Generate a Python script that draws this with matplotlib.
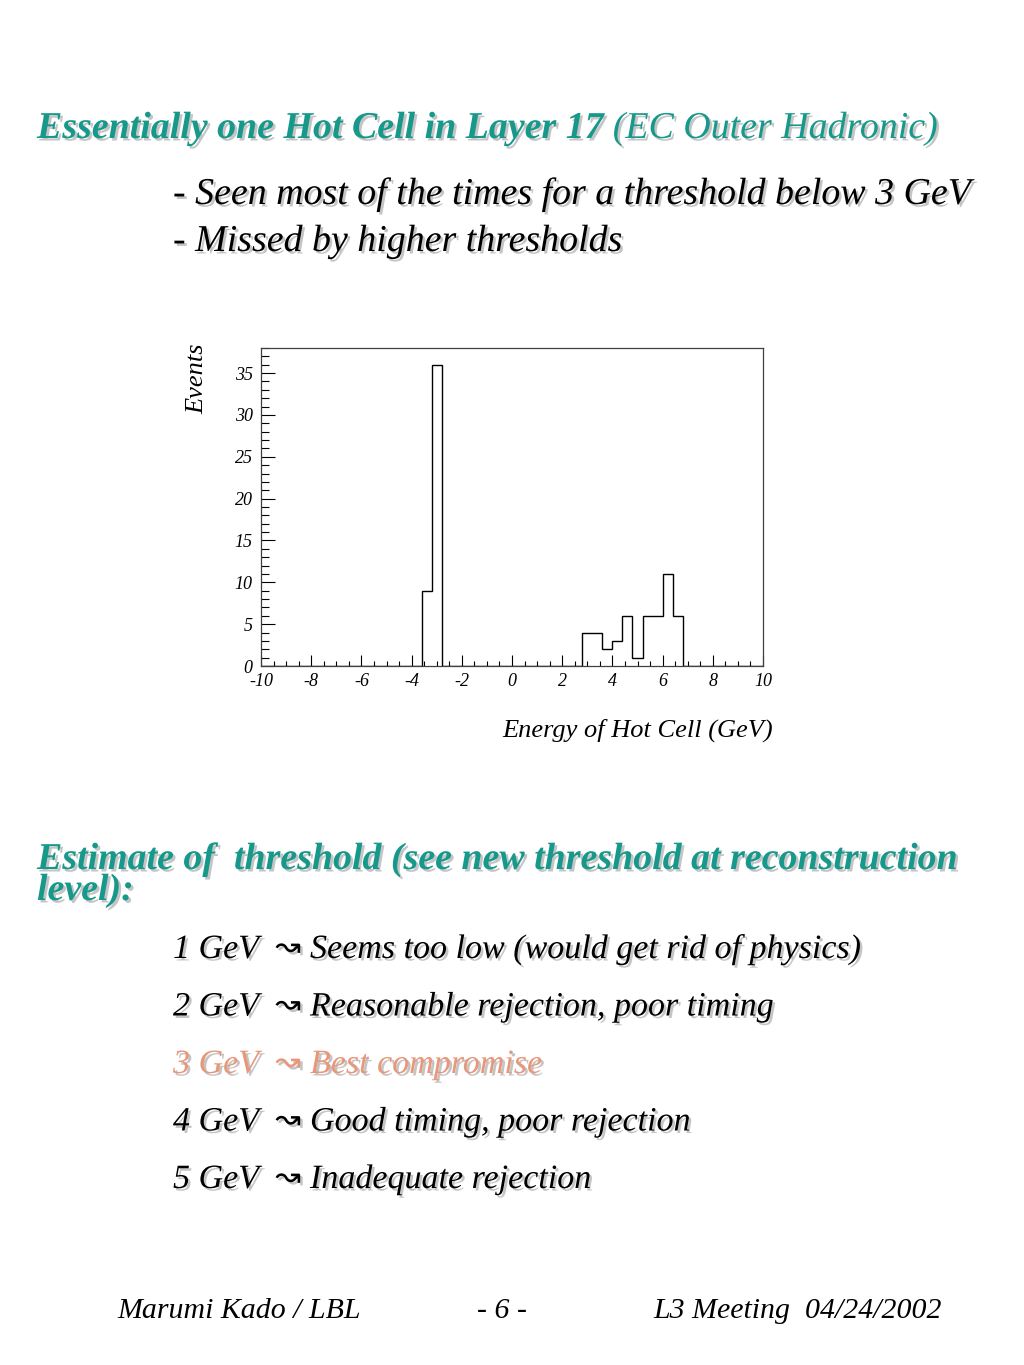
import numpy as np
import matplotlib
matplotlib.use("Agg")
import matplotlib.pyplot as plt
import matplotlib.patheffects as pe
from matplotlib.ticker import MultipleLocator

# ── data ─────────────────────────────────────────────────────────────────
bin_centers = [-3.4, -3.0, 3.0, 3.4, 3.8, 4.2, 4.6, 5.0, 5.4, 5.8, 6.2, 6.6]
events      = [9, 36, 4, 4, 2, 3, 6, 1, 6, 6, 11, 6]
x_range     = (-10, 10)
n_bins      = 50

title_bold  = "Essentially one Hot Cell in Layer 17"
title_rest  = " (EC Outer Hadronic)"
bullets     = ["- Seen most of the times for a threshold below 3 GeV",
               "- Missed by higher thresholds"]
heading2    = ["Estimate of  threshold (see new threshold at reconstruction",
               "level):"]
thresholds  = ["1 GeV", "2 GeV", "3 GeV", "4 GeV", "5 GeV"]
verdicts    = ["Seems too low (would get rid of physics)",
               "Reasonable rejection, poor timing",
               "Best compromise",
               "Good timing, poor rejection",
               "Inadequate rejection"]
footer      = ["Marumi Kado / LBL", "- 6 -", "L3 Meeting  04/24/2002"]

# ── style ────────────────────────────────────────────────────────────────
plt.rcParams["axes.unicode_minus"] = False
W, H   = 1024, 1365
TEAL   = "#16998b"
SALMON = "#e8977a"
SERIF  = ["Liberation Serif", "DejaVu Serif"]
BIG    = 27.3
shadow = [pe.withSimplePatchShadow(offset=(1.8, -1.8), shadow_rgbFace="0.55", alpha=0.5)]

fig = plt.figure(figsize=(W / 100, H / 100), dpi=100)
fig.patch.set_facecolor("white")
renderer = fig.canvas.get_renderer()


def put(x, y, s, size, **kw):
    """text at pixel position (x from left, y = baseline from top)"""
    kw.setdefault("family", SERIF)
    kw.setdefault("style", "italic")
    kw.setdefault("va", "baseline")
    return fig.text(x / W, 1 - y / H, s, fontsize=size, **kw)


def right_of(t):
    return t.get_window_extent(renderer).x1


# ── title block ──────────────────────────────────────────────────────────
t = put(37, 138, title_bold, BIG, weight="bold", color=TEAL, path_effects=shadow)
put(right_of(t), 138, title_rest, BIG, color=TEAL, path_effects=shadow)
put(173, 204, bullets[0], BIG, path_effects=shadow)
put(173, 251, bullets[1], BIG, path_effects=shadow)

# ── histogram ────────────────────────────────────────────────────────────
ax = fig.add_axes([261 / W, 1 - 666 / H, (763 - 261) / W, (666 - 348) / H])
edges = np.linspace(x_range[0], x_range[1], n_bins + 1)
ax.hist(bin_centers, bins=edges, weights=events, histtype="step",
        color="black", linewidth=1.0)
ax.set_xlim(*x_range)
ax.set_ylim(0, 38)
for sp in ax.spines.values():
    sp.set_linewidth(0.9)
    sp.set_color("0.25")
ax.xaxis.set_major_locator(MultipleLocator(2))
ax.xaxis.set_minor_locator(MultipleLocator(0.5))
ax.yaxis.set_major_locator(MultipleLocator(5))
ax.yaxis.set_minor_locator(MultipleLocator(1))
ax.tick_params(axis="x", which="major", direction="in", length=8, width=0.8, pad=5)
ax.tick_params(axis="x", which="minor", direction="in", length=3.6, width=0.8)
ax.tick_params(axis="y", which="major", direction="in", length=10, width=0.8, pad=6)
ax.tick_params(axis="y", which="minor", direction="in", length=5.4, width=0.8)
for lab in ax.get_xticklabels() + ax.get_yticklabels():
    lab.set_family(SERIF)
    lab.set_style("italic")
    lab.set_fontsize(13)

fig.text(197 / W, 1 - 344 / H, "Events", rotation=90, ha="center", va="top",
         family=SERIF, style="italic", fontsize=19)
put(773, 737, "Energy of Hot Cell (GeV)", 19, ha="right")

# ── second block ─────────────────────────────────────────────────────────
put(37, 869, heading2[0], BIG, weight="bold", color=TEAL, path_effects=shadow)
put(37, 900, heading2[1], BIG, weight="bold", color=TEAL, path_effects=shadow)

for i, (thr, txt) in enumerate(zip(thresholds, verdicts)):
    col = SALMON if thr == "3 GeV" else "black"
    yb = 958 + i * 57.5
    put(173, yb, thr, 24.5, color=col, path_effects=shadow)
    put(288, yb - 2, "\u219d", 22, color=col, ha="center", family=["DejaVu Sans"],
        style="normal", path_effects=shadow)
    put(310, yb, txt, 24.5, color=col, path_effects=shadow)

# ── footer ───────────────────────────────────────────────────────────────
put(117, 1318, footer[0], 21.5)
put(502, 1318, footer[1], 21.5, ha="center")
put(942, 1318, footer[2], 21.5, ha="right")

fig.savefig("out.png", dpi=100)
